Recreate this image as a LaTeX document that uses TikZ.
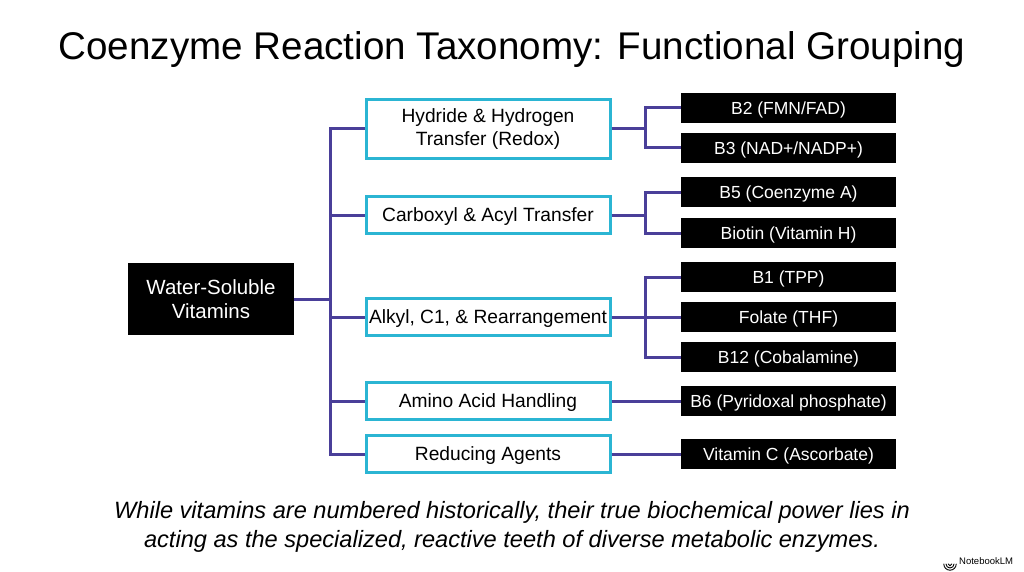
\documentclass[tikz,border=0pt]{standalone}
\usepackage{fontspec}
\setmainfont{Liberation Sans}
\usetikzlibrary{positioning}
\definecolor{link}{HTML}{4A3F99}
\definecolor{cyanb}{HTML}{2BB5D3}
\begin{document}
\begin{tikzpicture}[x=1pt,y=-1pt,
  rootbox/.style={fill=black,text=white,minimum width=166pt,minimum height=72pt,align=center,inner sep=0pt,font=\fontsize{20.5}{24}\selectfont},
  midbase/.style={draw=cyanb,line width=3pt,fill=white,minimum width=244pt,minimum height=37pt,align=center,inner sep=0pt,font=\fontsize{19.2}{23.5}\selectfont},
  midbox/.style={midbase,text height=13.8pt,text depth=0pt},
  leafbox/.style={fill=black,text=white,minimum width=215pt,minimum height=30pt,inner sep=0pt,text height=12.5pt,text depth=0pt,font=\fontsize{17.5}{20}\selectfont},
  conn/.style={draw=link,line width=3pt},
]
\useasboundingbox (0,0) rectangle (1024,572);
\fill[white] (0,0) rectangle (1024,572);

\node (title) at (512,50) {\fontsize{38.6}{44}\selectfont Coenzyme Reaction Taxonomy: Functional Grouping};

\node[rootbox] (root) at (211,299) {Water-Soluble\\Vitamins};

\node[midbase,minimum height=59pt] (m1) at (488,129) {Hydride \& Hydrogen\\Transfer (Redox)};
\node[midbox] (m2) at (488,215) {Carboxyl \& Acyl Transfer};
\node[midbox] (m3) at (488,317) {Alkyl, C1, \& Rearrangement};
\node[midbox] (m4) at (488,401) {Amino Acid Handling};
\node[midbox] (m5) at (488,454) {Reducing Agents};

\node[leafbox] (b2) at (788.5,108) {B2 (FMN/FAD)};
\node[leafbox] (b3) at (788.5,148) {B3 (NAD+/NADP+)};
\node[leafbox] (b5) at (788.5,192) {B5 (Coenzyme A)};
\node[leafbox] (bt) at (788.5,233) {Biotin (Vitamin H)};
\node[leafbox] (b1) at (788.5,277) {B1 (TPP)};
\node[leafbox] (fo) at (788.5,317) {Folate (THF)};
\node[leafbox] (b12) at (788.5,357) {B12 (Cobalamine)};
\node[leafbox] (b6) at (788.5,401) {B6 (Pyridoxal phosphate)};
\node[leafbox] (vc) at (788.5,454) {Vitamin C (Ascorbate)};

\coordinate (j0) at (330,299);
\coordinate (j1) at (645,129);
\coordinate (j2) at (645,215);
\coordinate (j3) at (645,317);

\draw[conn] (root.east) -- (j0);
\foreach \m in {m1,m2,m3,m4,m5} \draw[conn] (j0) |- (\m.west);
\draw[conn] (m1.east) -- (j1);
\draw[conn] (j1) |- (b2.west);
\draw[conn] (j1) |- (b3.west);
\draw[conn] (m2.east) -- (j2);
\draw[conn] (j2) |- (b5.west);
\draw[conn] (j2) |- (bt.west);
\draw[conn] (m3.east) -- (fo.west);
\draw[conn] (j3) |- (b1.west);
\draw[conn] (j3) |- (b12.west);
\draw[conn] (m4.east) -- (b6.west);
\draw[conn] (m5.east) -- (vc.west);

\node[align=center,font=\fontsize{23.6}{29.5}\selectfont\itshape] (cap) at (512,527) {While vitamins are numbered historically, their true biochemical power lies in\\acting as the specialized, reactive teeth of diverse metabolic enzymes.};

\node[anchor=base west,inner sep=0pt,font=\fontsize{9.5}{11}\selectfont] (logo) at (959,564) {NotebookLM};
\begin{scope}[line width=0.9pt,line cap=round]
\coordinate (ic) at (950,564);
\draw (ic) ++(0:1.8) arc (0:180:1.8);
\draw (ic) ++(0:4) arc (0:180:4);
\draw (ic) ++(0:6.2) arc (0:180:6.2);
\end{scope}
\end{tikzpicture}
\end{document}
